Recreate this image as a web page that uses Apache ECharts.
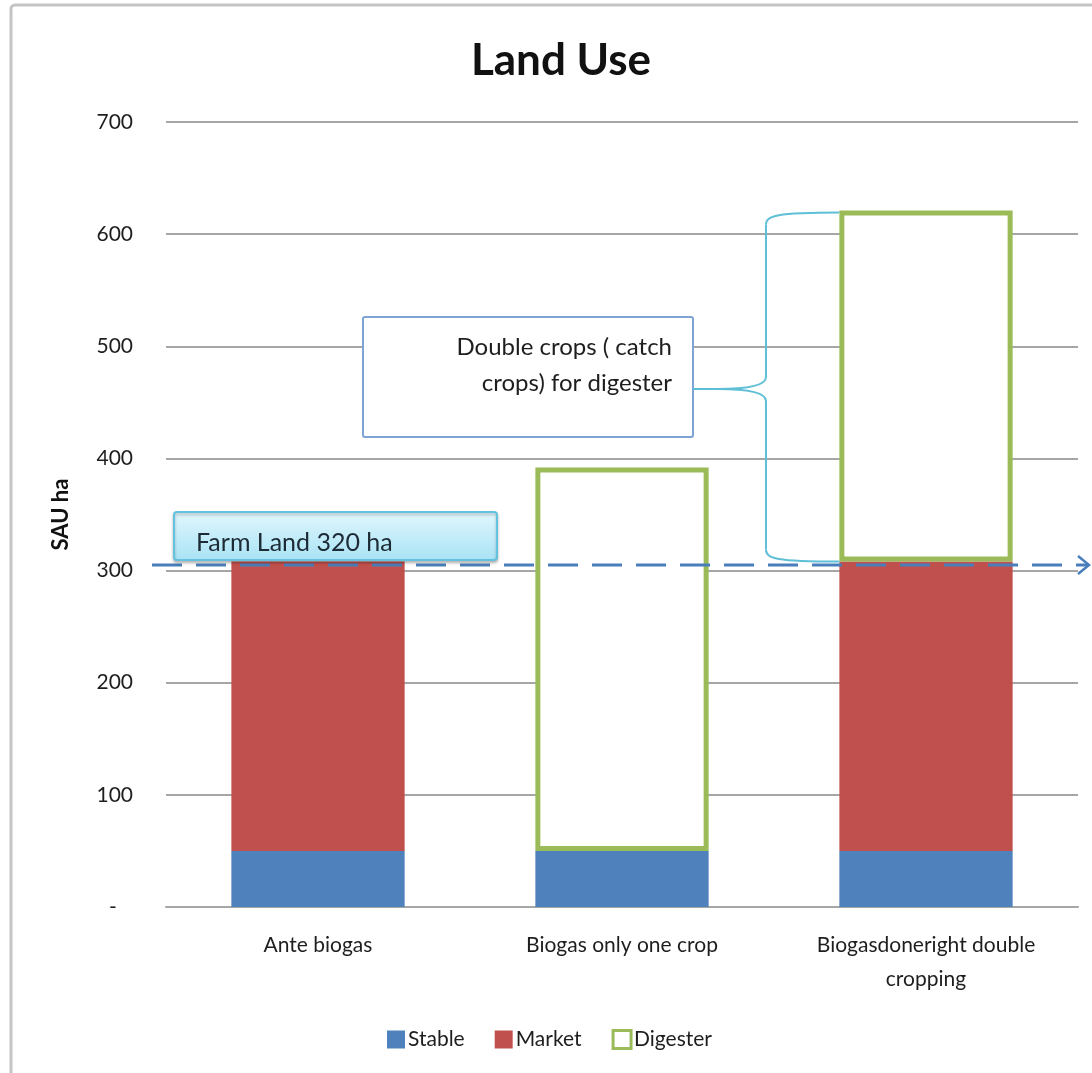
<!DOCTYPE html>
<html>
<head>
<meta charset="utf-8">
<title>Land Use</title>
<script src="https://cdn.jsdelivr.net/npm/echarts@6/dist/echarts.min.js"></script>
<style>
html, body { margin: 0; padding: 0; background: #fff; }
#main { width: 1092px; height: 1073px; }
</style>
</head>
<body>
<div id="main"></div>
<script>
// data (ha)
var categories = ['Ante biogas', 'Biogas only one crop', 'Biogasdoneright double\ncropping'];
var stableData = [50, 50, 50];
var marketData = [258, null, 258];
var digesterData = [null, 342, 313];
var yTicks = [0, 100, 200, 300, 400, 500, 600, 700];
var farmLand = 305; // dashed reference line

var FONT = 'Lato, "Open Sans", sans-serif';
var TXT = '#1e1e1e';

var myChart = echarts.init(document.getElementById('main'));

var option = {
    animation: false,
    backgroundColor: '#fff',
    title: {
        text: 'Land Use',
        left: 556,
        top: 34,
        textAlign: 'center',
        textStyle: { fontFamily: FONT, fontSize: 44, fontWeight: 'bold', color: '#111' }
    },
    legend: {
        left: 382,
        top: 1024,
        itemWidth: 18,
        itemHeight: 18,
        itemGap: 30,
        icon: 'rect',
        textStyle: { fontFamily: FONT, fontSize: 21, color: TXT, padding: [0, 0, 0, -2] },
        data: [
            { name: 'Stable' },
            { name: 'Market' },
            { name: 'Digester', itemStyle: { color: '#fff', borderColor: '#9BBB59', borderWidth: 3 } }
        ]
    },
    grid: { left: 166, right: 14, top: 122, bottom: 166 },
    xAxis: {
        type: 'category',
        data: categories,
        axisTick: { show: false },
        axisLine: { lineStyle: { color: '#A6A6A6', width: 2 } },
        axisLabel: { fontFamily: FONT, fontSize: 21, color: TXT, margin: 21, lineHeight: 34, interval: 0 }
    },
    yAxis: {
        type: 'value',
        min: yTicks[0],
        max: yTicks[yTicks.length - 1],
        interval: 100,
        name: 'SAU ha',
        nameLocation: 'middle',
        nameRotate: 90,
        nameGap: 94,
        nameTextStyle: { fontFamily: FONT, fontSize: 22, fontWeight: 'bold', color: '#111' },
        axisLine: { show: false },
        axisTick: { show: false },
        splitLine: { lineStyle: { color: '#A6A6A6', width: 2 } },
        axisLabel: {
            fontFamily: FONT, fontSize: 21, color: TXT, margin: 33,
            formatter: function (v) { return v === 0 ? '-   ' : v; }
        }
    },
    series: [
        {
            name: 'Stable', type: 'bar', stack: 'land', barWidth: '57%',
            itemStyle: { color: '#4F81BD' },
            data: stableData
        },
        {
            name: 'Market', type: 'bar', stack: 'land', barWidth: '57%',
            itemStyle: { color: '#C0504D' },
            data: marketData
        },
        {
            name: 'Digester', type: 'bar', stack: 'land', barWidth: '57%',
            itemStyle: { color: '#fff', borderColor: '#9BBB59', borderWidth: 5 },
            data: digesterData
        }
    ]
};

myChart.setOption(option, true);

// annotations placed from the axis scales
var lineY = myChart.convertToPixel({ yAxisIndex: 0 }, farmLand);
var top3 = myChart.convertToPixel({ gridIndex: 0 }, [2, stableData[2] + marketData[2] + digesterData[2]]);
var bot3 = myChart.convertToPixel({ gridIndex: 0 }, [2, stableData[2] + marketData[2]]);
var barHalf = (1092 - 166 - 14) / 3 * 0.57 / 2;
var barLeft = top3[0] - barHalf;
var topY = top3[1], botY = bot3[1];
var braceX = 766, midY = 389, tipX = 717;
var BR = '#5FBFD6';

var graphics = [
    // outer frame
    { type: 'rect', z: 1, shape: { x: 11, y: 5, width: 1120, height: 1120, r: 4 },
      style: { fill: 'none', stroke: '#C4C4C4', lineWidth: 3 } },
    // dashed farm land line
    { type: 'line', z: 100, shape: { x1: 152, y1: lineY, x2: 1088, y2: lineY },
      style: { stroke: '#4A7EBB', lineWidth: 3, lineDash: [30, 14] } },
    { type: 'polyline', z: 100, shape: { points: [[1078, lineY - 9], [1089, lineY], [1078, lineY + 9]] },
      style: { stroke: '#4A7EBB', lineWidth: 2.5, fill: 'none' } },
    // farm land box
    { type: 'rect', z: 101, shape: { x: 174, y: 512, width: 323, height: 48, r: 3 },
      style: {
          fill: new echarts.graphic.LinearGradient(0, 0, 0, 1, [
              { offset: 0, color: '#E2F7FD' }, { offset: 1, color: '#A8E3F5' }
          ]),
          stroke: '#63C2DD', lineWidth: 2,
          shadowBlur: 3, shadowColor: 'rgba(0,0,0,0.25)', shadowOffsetY: 2
      } },
    { type: 'text', z: 102, style: { x: 196, y: 543, text: 'Farm Land 320 ha', fontFamily: FONT,
      fontSize: 25, fill: '#1d2b36', verticalAlign: 'middle' } },
    // double crops callout
    { type: 'rect', z: 101, shape: { x: 363, y: 317, width: 330, height: 120, r: 2 },
      style: { fill: '#fff', stroke: '#7FA3D6', lineWidth: 2 } },
    { type: 'text', z: 102, style: { x: 672, y: 347, text: 'Double crops ( catch', fontFamily: FONT,
      fontSize: 24, fill: TXT, align: 'right', verticalAlign: 'middle' } },
    { type: 'text', z: 102, style: { x: 672, y: 383, text: 'crops) for digester', fontFamily: FONT,
      fontSize: 24, fill: TXT, align: 'right', verticalAlign: 'middle' } },
    // brace
    { type: 'line', z: 101, shape: { x1: 693, y1: midY, x2: tipX, y2: midY }, style: { stroke: BR, lineWidth: 2 } },
    { type: 'bezierCurve', z: 101, shape: { x1: barLeft, y1: topY + 2, x2: braceX, y2: topY + 14,
      cpx1: braceX + 10, cpy1: topY + 2, cpx2: braceX, cpy2: topY + 5 }, style: { stroke: BR, lineWidth: 2, fill: 'none' } },
    { type: 'line', z: 101, shape: { x1: braceX, y1: topY + 14, x2: braceX, y2: midY - 12 }, style: { stroke: BR, lineWidth: 2 } },
    { type: 'bezierCurve', z: 101, shape: { x1: braceX, y1: midY - 12, x2: tipX, y2: midY,
      cpx1: braceX, cpy1: midY - 2, cpx2: braceX - 25, cpy2: midY }, style: { stroke: BR, lineWidth: 2, fill: 'none' } },
    { type: 'bezierCurve', z: 101, shape: { x1: tipX, y1: midY, x2: braceX, y2: midY + 12,
      cpx1: braceX - 25, cpy1: midY, cpx2: braceX, cpy2: midY + 2 }, style: { stroke: BR, lineWidth: 2, fill: 'none' } },
    { type: 'line', z: 101, shape: { x1: braceX, y1: midY + 12, x2: braceX, y2: botY - 12 }, style: { stroke: BR, lineWidth: 2 } },
    { type: 'bezierCurve', z: 101, shape: { x1: braceX, y1: botY - 12, x2: barLeft, y2: botY,
      cpx1: braceX, cpy1: botY - 3, cpx2: braceX + 10, cpy2: botY } , style: { stroke: BR, lineWidth: 2, fill: 'none' } }
];

myChart.setOption({ graphic: graphics });
</script>
</body>
</html>
